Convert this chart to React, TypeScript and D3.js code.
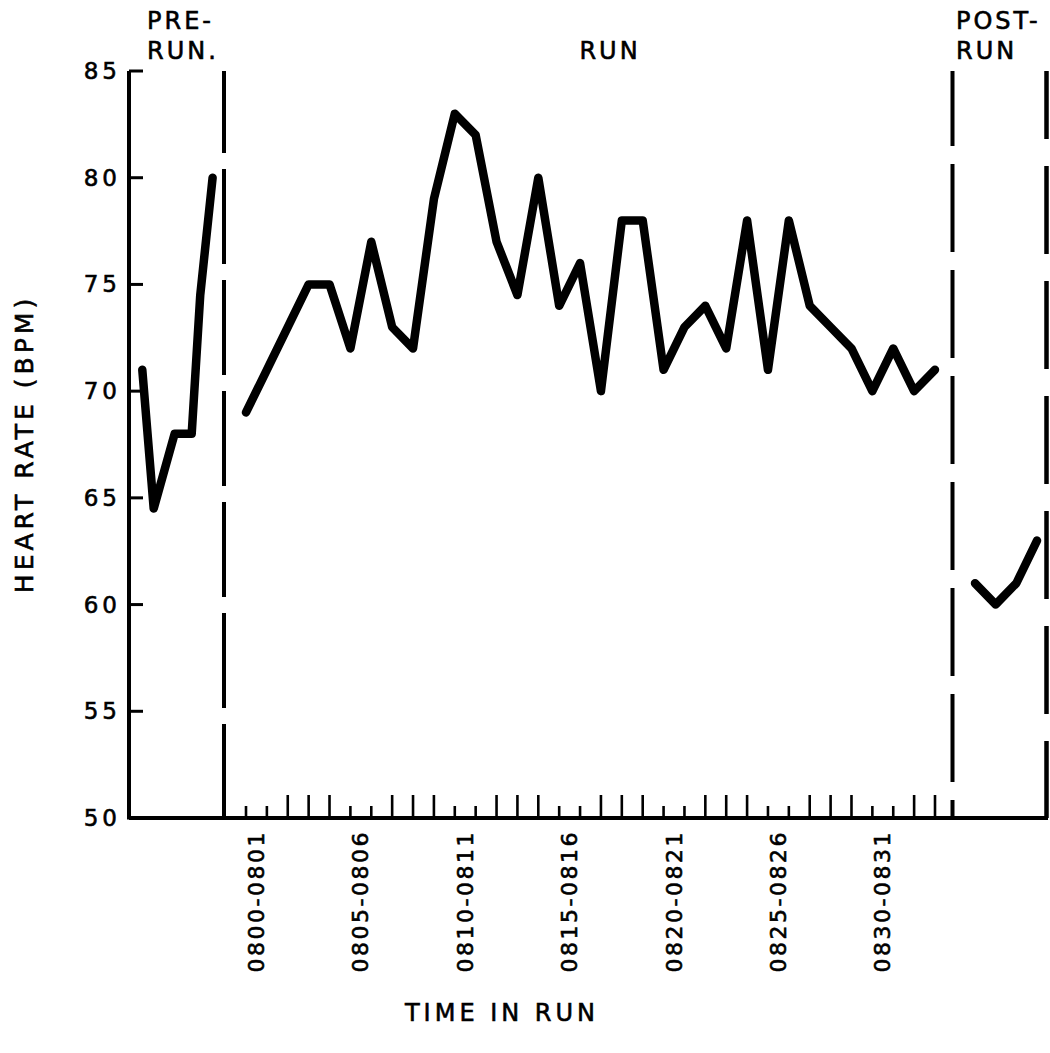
import React from "react";
import * as d3 from "d3";

// Heart rate (beats per minute) before, during and after the run
const yTickValues = [50, 55, 60, 65, 70, 75, 80, 85];

// Pre-run samples: time offset within the pre-run panel, and rate
const preRunTimes = [0.7, 1.3, 2.4, 3.3, 3.75, 4.4];
const preRunRates = [71, 64.5, 68, 68, 74.5, 80];

// One reading per minute of the run, 0800 onward
const runRates = [
  69, 71, 73, 75, 75, 72, 77, 73, 72, 79,
  83, 82, 77, 74.5, 80, 74, 76, 70, 78, 78,
  71, 73, 74, 72, 78, 71, 78, 74, 73, 72,
  70, 72, 70, 71,
];

// Post-run readings
const postRunRates = [61, 60, 61, 63];

// Labelled minute intervals on the time axis
const intervalStarts = [0, 5, 10, 15, 20, 25, 30];
const intervalLabels = [
  "0800-0801",
  "0805-0806",
  "0810-0811",
  "0815-0816",
  "0820-0821",
  "0825-0826",
  "0830-0831",
];

const phaseLabels = ["PRE-", "RUN.", "RUN", "POST-", "RUN"];

const FONT = "'DejaVu Sans', 'Liberation Sans', sans-serif";
const INK = "#000";

export default function App() {
  const width = 1050;
  const height = 1053;

  const axisX = 129;
  const baseY = 818;
  const topY = 71;
  const runStartX = 224;
  const postStartX = 952.5;
  const rightX = 1046.5;

  const y = d3.scaleLinear().domain([50, 85]).range([baseY, topY]);
  const xPre = d3.scaleLinear().domain([0, 5]).range([axisX, runStartX]);
  const xRun = d3.scaleLinear().domain([0, runRates.length - 1]).range([246, 935]);
  const xPost = d3.scaleLinear().domain([0, postRunRates.length - 1]).range([975, 1037]);

  const line = d3.line<[number, number]>().x((d) => d[0]).y((d) => d[1]);

  const prePath = line(preRunTimes.map((t, i) => [xPre(t), y(preRunRates[i])]));
  const runPath = line(runRates.map((v, i) => [xRun(i), y(v)]));
  const postPath = line(postRunRates.map((v, i) => [xPost(i), y(v)]));

  const minuteTicks = runRates.map((_, i) => i);

  const traceStyle = {
    fill: "none",
    stroke: INK,
    strokeWidth: 8.5,
    strokeLinejoin: "round" as const,
    strokeLinecap: "round" as const,
  };

  // Slight outline gives the lettering a typewriter weight
  const textInk = { fill: INK, stroke: INK, strokeWidth: 0.6 };

  return (
    <svg
      width={width}
      height={height}
      viewBox={`0 0 ${width} ${height}`}
      style={{ position: "absolute", left: 0, top: 0, background: "#fff" }}
    >
      <rect x={0} y={0} width={width} height={height} fill="#fff" />

      {/* Vertical axis with inward ticks */}
      <line x1={axisX} y1={topY} x2={axisX} y2={baseY + 1.5} stroke={INK} strokeWidth={4} />
      {yTickValues.map((v) => (
        <g key={v}>
          <line x1={axisX} x2={axisX + 14} y1={y(v)} y2={y(v)} stroke={INK} strokeWidth={3} />
          <text
            x={121}
            y={y(v)}
            textAnchor="end"
            dominantBaseline="central"
            fontFamily={FONT}
            fontSize={23}
            letterSpacing={4}
            {...textInk}
          >
            {v}
          </text>
        </g>
      ))}

      {/* Time axis baseline */}
      <line x1={axisX} y1={baseY} x2={rightX + 1.5} y2={baseY} stroke={INK} strokeWidth={4} />

      {/* Minute ticks: short pair at each labelled interval, tall otherwise */}
      {minuteTicks.map((i) => {
        const short = i % 5 === 0 || i % 5 === 1;
        return (
          <line
            key={i}
            x1={xRun(i)}
            x2={xRun(i)}
            y1={baseY}
            y2={baseY - (short ? 12 : 23)}
            stroke={INK}
            strokeWidth={2.6}
          />
        );
      })}

      {/* Interval labels */}
      {intervalStarts.map((s, k) => {
        const cx = xRun(s + 0.5);
        return (
          <text
            key={s}
            transform={`translate(${cx},${830}) rotate(-90)`}
            textAnchor="end"
            dominantBaseline="central"
            fontFamily={FONT}
            fontSize={22}
            letterSpacing={2.5}
            {...textInk}
          >
            {intervalLabels[k]}
          </text>
        );
      })}

      {/* Phase dividers */}
      <line
        x1={runStartX}
        x2={runStartX}
        y1={topY}
        y2={baseY}
        stroke={INK}
        strokeWidth={4}
        strokeDasharray="95 16"
        strokeDashoffset={13}
      />
      <line
        x1={postStartX}
        x2={postStartX}
        y1={topY}
        y2={baseY}
        stroke={INK}
        strokeWidth={4}
        strokeDasharray="88 18"
        strokeDashoffset={13}
      />
      <line
        x1={rightX}
        x2={rightX}
        y1={topY}
        y2={baseY}
        stroke={INK}
        strokeWidth={4.5}
        strokeDasharray="88 27"
        strokeDashoffset={20}
      />

      {/* Heart rate traces */}
      <path d={prePath ?? ""} {...traceStyle} />
      <path d={runPath ?? ""} {...traceStyle} />
      <path d={postPath ?? ""} {...traceStyle} />

      {/* Phase titles */}
      <g fontFamily={FONT} fontSize={24} letterSpacing={3} {...textInk}>
        <text x={147} y={29}>{phaseLabels[0]}</text>
        <text x={147} y={59}>{phaseLabels[1]}</text>
        <text x={610} y={59} textAnchor="middle">{phaseLabels[2]}</text>
        <text x={956} y={29}>{phaseLabels[3]}</text>
        <text x={956} y={59}>{phaseLabels[4]}</text>
      </g>

      {/* Axis titles */}
      <text
        transform={`translate(24,${444}) rotate(-90)`}
        textAnchor="middle"
        dominantBaseline="central"
        fontFamily={FONT}
        fontSize={25}
        letterSpacing={4}
        {...textInk}
      >
        HEART RATE (BPM)
      </text>
      <text
        x={502}
        y={1021}
        textAnchor="middle"
        fontFamily={FONT}
        fontSize={24}
        letterSpacing={4}
        {...textInk}
      >
        TIME IN RUN
      </text>
    </svg>
  );
}
